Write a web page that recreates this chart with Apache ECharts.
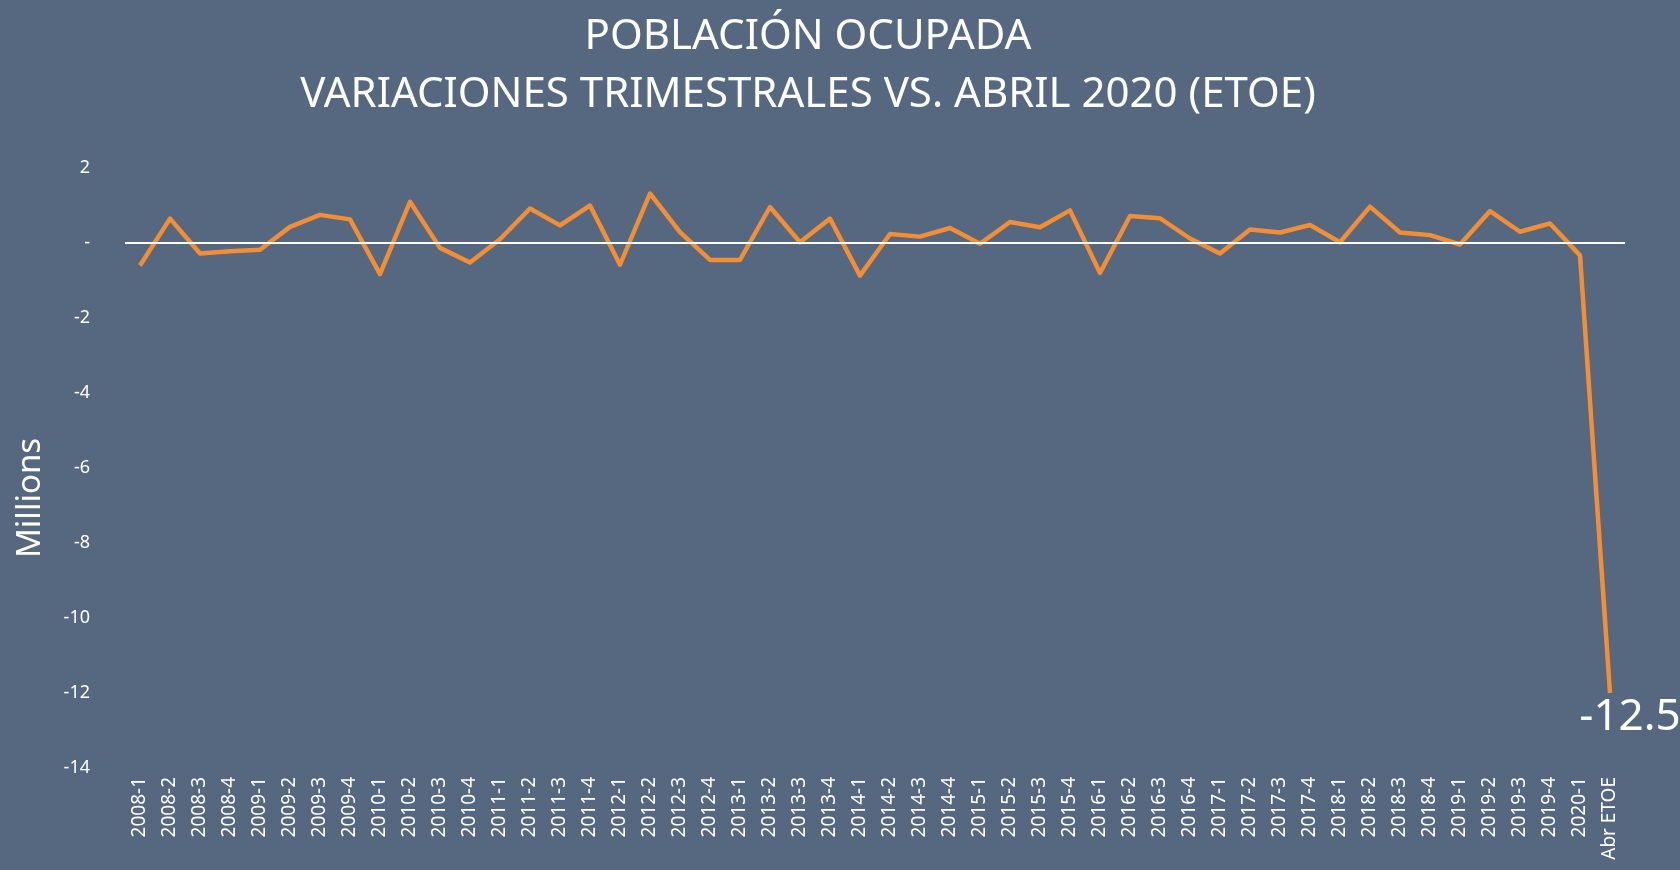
<!DOCTYPE html>
<html>
<head>
<meta charset="utf-8">
<script src="https://cdn.jsdelivr.net/npm/echarts@6/dist/echarts.min.js"></script>
<style>
  html, body { margin: 0; padding: 0; background: #566780; }
  #chart { width: 1680px; height: 870px; }
</style>
</head>
<body>
<div id="chart"></div>
<script>
// quarters + the April ETOE estimate
const categories = [
  '2008-1', '2008-2', '2008-3', '2008-4', '2009-1', '2009-2', '2009-3', '2009-4',
  '2010-1', '2010-2', '2010-3', '2010-4', '2011-1', '2011-2', '2011-3', '2011-4',
  '2012-1', '2012-2', '2012-3', '2012-4', '2013-1', '2013-2', '2013-3', '2013-4',
  '2014-1', '2014-2', '2014-3', '2014-4', '2015-1', '2015-2', '2015-3', '2015-4',
  '2016-1', '2016-2', '2016-3', '2016-4', '2017-1', '2017-2', '2017-3', '2017-4',
  '2018-1', '2018-2', '2018-3', '2018-4', '2019-1', '2019-2', '2019-3', '2019-4',
  '2020-1', 'Abr ETOE'
];

// quarterly change, millions
const variacion = [
  -0.60, 0.65, -0.28, -0.22, -0.18, 0.43, 0.75, 0.63,
  -0.83, 1.10, -0.13, -0.52, 0.10, 0.92, 0.47, 1.00,
  -0.58, 1.32, 0.29, -0.45, -0.45, 0.96, 0.02, 0.65,
  -0.87, 0.24, 0.17, 0.40, -0.02, 0.56, 0.42, 0.87,
  -0.80, 0.72, 0.66, 0.12, -0.28, 0.36, 0.28, 0.48,
  0.02, 0.97, 0.28, 0.21, -0.04, 0.85, 0.30, 0.52,
  -0.33, -12.0
];

const lastLabel = '-12.5';
const yTicks = [2, 0, -2, -4, -6, -8, -10, -12, -14];

const chart = echarts.init(document.getElementById('chart'));

const white = '#ffffff';
const font = '"Noto Sans", sans-serif';

chart.setOption({
  backgroundColor: '#566780',
  animation: false,
  title: {
    text: 'POBLACIÓN OCUPADA\nVARIACIONES TRIMESTRALES VS. ABRIL 2020 (ETOE)',
    left: 803,
    top: 3,
    textAlign: 'center',
    textStyle: {
      color: white,
      fontFamily: font,
      fontWeight: 'normal',
      fontSize: 42,
      lineHeight: 58
    }
  },
  // rotated axis title, sits a bit below the plot's middle like the original
  graphic: [{
    type: 'text',
    x: 31,
    y: 498,
    rotation: Math.PI / 2,
    style: {
      text: 'Millions',
      fill: white,
      font: '33px "Noto Sans", sans-serif',
      align: 'center',
      verticalAlign: 'middle'
    }
  }],
  grid: {
    left: 125,
    top: 168,
    width: 1500,
    height: 600
  },
  xAxis: {
    type: 'category',
    data: categories,
    boundaryGap: true,
    axisLine: { show: false },
    axisTick: { show: false },
    axisLabel: {
      rotate: 90,
      interval: 0,
      margin: 9,
      color: white,
      fontFamily: font,
      fontSize: 19
    }
  },
  yAxis: {
    type: 'value',
    min: -14,
    max: 2,
    interval: 2,
    axisLine: { show: false },
    axisTick: { show: false },
    splitLine: { show: false },
    axisLabel: {
      margin: 35,
      color: white,
      fontFamily: font,
      fontSize: 18,
      formatter: v => (yTicks.includes(v) ? (v === 0 ? '-' : String(v)) : '')
    }
  },
  series: [{
    type: 'line',
    data: variacion,
    symbol: 'circle',
    symbolSize: 0,
    showSymbol: true,
    lineStyle: { color: '#F28E35', width: 4.5, join: 'round' },
    itemStyle: { color: '#F28E35' },
    label: {
      show: true,
      position: 'bottom',
      distance: 0,
      offset: [20, 2],
      color: white,
      fontFamily: font,
      fontSize: 44,
      formatter: p => (p.dataIndex === variacion.length - 1 ? lastLabel : '')
    },
    markLine: {
      silent: true,
      symbol: 'none',
      label: { show: false },
      lineStyle: { color: white, width: 2, type: 'solid' },
      data: [{ yAxis: 0 }]
    },
    z: 3
  }]
});
</script>
</body>
</html>
